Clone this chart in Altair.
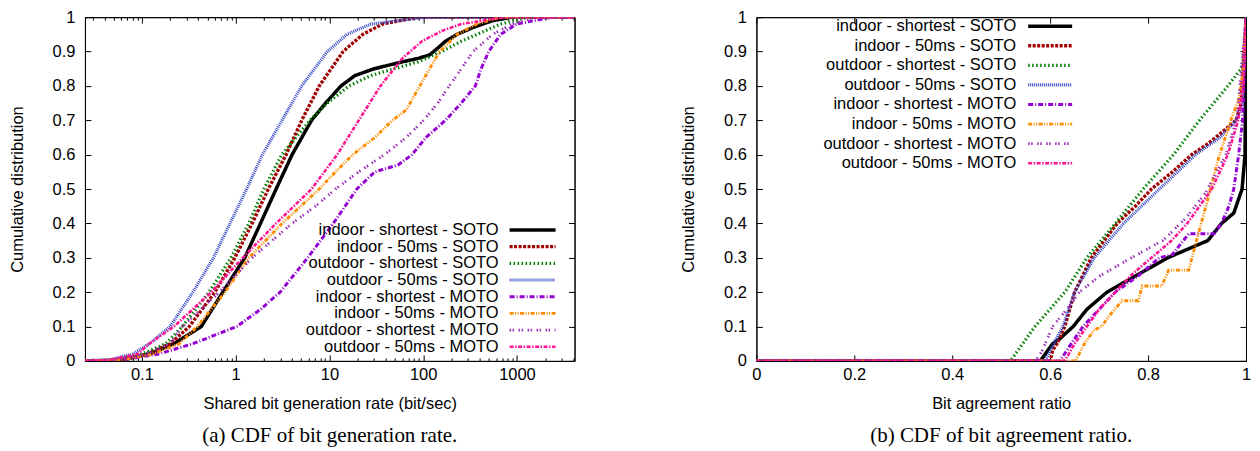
import altair as alt
import pandas as pd

NAMES = ["indoor - shortest - SOTO", "indoor - 50ms - SOTO", "outdoor - shortest - SOTO",
         "outdoor - 50ms - SOTO", "indoor - shortest - MOTO", "indoor - 50ms - MOTO",
         "outdoor - shortest - MOTO", "outdoor - 50ms - MOTO"]
COLORS = ["#000000", "#a00000", "#008000", "#3344c4", "#9400d3", "#ff8c00", "#9a30b8", "#ff1493"]
DASHES = [[1, 0], [3, 1.5], [1.5, 2.5], [1, 1], [5, 2, 1, 2], [4, 1.5, 1, 1.5, 1, 1.5],
          [1.5, 1.5, 1.5, 4.5], [4, 1.5, 1.5, 1.5]]

# ---- (a) shared bit generation rate (bit/sec) vs CDF ----
RATE_X = [
    [0.0247, 0.056, 0.12, 0.22, 0.43, 0.73, 1.25, 1.84, 2.7, 4.0, 6.45, 9.1, 13.3, 18.7, 30, 60, 88, 117, 143, 173, 230, 340, 550, 890, 4115],
    [0.0247, 0.05, 0.1, 0.2, 0.32, 0.6, 0.98, 1.5, 2.23, 3.45, 5.07, 7.8, 14, 22.7, 36.8, 88, 4115],
    [0.0247, 0.05, 0.1, 0.18, 0.27, 0.52, 0.89, 1.38, 2.0, 3.1, 6.2, 9.5, 16.2, 27.6, 49, 88, 158, 255, 455, 670, 1320, 4115],
    [0.0247, 0.045, 0.08, 0.12, 0.2, 0.35, 0.58, 0.87, 1.31, 1.93, 3.13, 5.07, 9.5, 15.4, 27.6, 107, 4115],
    [0.0247, 0.06, 0.15, 0.35, 1.03, 1.84, 2.98, 5.87, 11, 19.6, 30.5, 54, 76, 107, 173, 255, 360, 415, 500, 670, 990, 2360, 4115],
    [0.0247, 0.06, 0.13, 0.25, 0.39, 0.77, 1.38, 3.13, 7.8, 11.6, 17.8, 30.5, 47, 66, 92, 117, 150, 230, 375, 670, 4115],
    [0.0247, 0.055, 0.11, 0.2, 0.27, 0.67, 1.5, 2.45, 4.0, 7.1, 11.6, 20.6, 38.6, 66, 101, 143, 190, 255, 340, 550, 890, 1600, 4115],
    [0.0247, 0.045, 0.09, 0.12, 0.22, 0.55, 1.19, 2.7, 6.45, 12.1, 20.6, 35, 60, 97, 158, 255, 740, 4115],
]
RATE_Y = [
    [0, 0, 0.02, 0.05, 0.1, 0.2, 0.3, 0.4, 0.5, 0.6, 0.7, 0.75, 0.8, 0.83, 0.85, 0.87, 0.88, 0.89, 0.91, 0.93, 0.95, 0.97, 0.99, 1.0, 1.0],
    [0, 0.002, 0.015, 0.05, 0.1, 0.2, 0.3, 0.4, 0.5, 0.6, 0.7, 0.8, 0.9, 0.95, 0.98, 1.0, 1.0],
    [0, 0.003, 0.02, 0.05, 0.1, 0.2, 0.3, 0.4, 0.5, 0.6, 0.7, 0.75, 0.8, 0.83, 0.85, 0.87, 0.9, 0.93, 0.96, 0.98, 1.0, 1.0],
    [0, 0.003, 0.02, 0.05, 0.1, 0.2, 0.3, 0.4, 0.5, 0.6, 0.7, 0.8, 0.9, 0.95, 0.98, 1.0, 1.0],
    [0, 0.002, 0.02, 0.05, 0.1, 0.15, 0.2, 0.3, 0.4, 0.5, 0.55, 0.57, 0.6, 0.65, 0.7, 0.75, 0.8, 0.85, 0.9, 0.95, 0.98, 1.0, 1.0],
    [0, 0.002, 0.02, 0.05, 0.1, 0.2, 0.3, 0.4, 0.5, 0.55, 0.6, 0.65, 0.7, 0.73, 0.8, 0.85, 0.9, 0.95, 0.98, 1.0, 1.0],
    [0, 0.002, 0.02, 0.05, 0.1, 0.2, 0.3, 0.35, 0.4, 0.45, 0.5, 0.55, 0.6, 0.65, 0.7, 0.75, 0.8, 0.85, 0.9, 0.95, 0.98, 1.0, 1.0],
    [0, 0.003, 0.02, 0.05, 0.1, 0.2, 0.3, 0.4, 0.5, 0.6, 0.7, 0.8, 0.88, 0.93, 0.96, 0.98, 1.0, 1.0],
]

# ---- (b) bit agreement ratio vs CDF ----
AGREE_X = [
    [0, 0.58, 0.605, 0.62, 0.647, 0.675, 0.716, 0.778, 0.84, 0.889, 0.922, 0.95, 0.975, 0.992, 0.998, 1.0],
    [0, 0.6, 0.605, 0.614, 0.63, 0.65, 0.684, 0.737, 0.774, 0.807, 0.85, 0.889, 0.92, 0.938, 0.98, 0.99, 1.0],
    [0, 0.519, 0.569, 0.63, 0.675, 0.733, 0.79, 0.852, 0.905, 0.963, 0.99, 0.998, 1.0],
    [0, 0.59, 0.6, 0.626, 0.65, 0.69, 0.75, 0.823, 0.897, 0.947, 0.98, 0.993, 1.0],
    [0, 0.62, 0.643, 0.667, 0.7, 0.733, 0.782, 0.823, 0.85, 0.883, 0.935, 0.95, 0.965, 0.975, 0.985, 0.993, 1.0],
    [0, 0.652, 0.67, 0.69, 0.705, 0.72, 0.747, 0.78, 0.788, 0.828, 0.842, 0.883, 0.897, 0.918, 0.945, 0.971, 0.985, 0.995, 1.0],
    [0, 0.57, 0.583, 0.605, 0.634, 0.66, 0.70, 0.766, 0.83, 0.877, 0.918, 0.94, 0.959, 0.982, 1.0],
    [0, 0.63, 0.65, 0.675, 0.7, 0.733, 0.766, 0.807, 0.848, 0.88, 0.905, 0.93, 0.963, 0.984, 0.995, 1.0],
]
AGREE_Y = [
    [0, 0, 0.05, 0.065, 0.1, 0.15, 0.2, 0.25, 0.3, 0.33, 0.35, 0.4, 0.43, 0.5, 0.6, 1.0],
    [0, 0, 0.03, 0.05, 0.1, 0.2, 0.3, 0.4, 0.45, 0.5, 0.55, 0.6, 0.63, 0.65, 0.7, 0.75, 1.0],
    [0, 0, 0.1, 0.2, 0.3, 0.4, 0.5, 0.6, 0.7, 0.8, 0.85, 0.9, 1.0],
    [0, 0, 0.03, 0.1, 0.2, 0.3, 0.4, 0.5, 0.6, 0.65, 0.7, 0.75, 1.0],
    [0, 0, 0.05, 0.1, 0.15, 0.2, 0.25, 0.3, 0.31, 0.37, 0.37, 0.4, 0.45, 0.5, 0.6, 0.7, 1.0],
    [0, 0, 0.05, 0.09, 0.1, 0.13, 0.175, 0.175, 0.218, 0.218, 0.264, 0.264, 0.34, 0.45, 0.595, 0.708, 0.76, 0.85, 1.0],
    [0, 0, 0.028, 0.1, 0.15, 0.2, 0.246, 0.3, 0.35, 0.415, 0.49, 0.55, 0.6, 0.71, 1.0],
    [0, 0, 0.05, 0.1, 0.15, 0.2, 0.25, 0.3, 0.35, 0.4, 0.45, 0.5, 0.6, 0.7, 0.8, 1.0],
]

Y_TICKS = [0, 0.1, 0.2, 0.3, 0.4, 0.5, 0.6, 0.7, 0.8, 0.9, 1]
RATE_TICKS = [0.1, 1, 10, 100, 1000]
RATE_MINOR = [0.03, 0.04, 0.05, 0.06, 0.07, 0.08, 0.09,
              0.2, 0.3, 0.4, 0.5, 0.6, 0.7, 0.8, 0.9,
              2, 3, 4, 5, 6, 7, 8, 9,
              20, 30, 40, 50, 60, 70, 80, 90,
              200, 300, 400, 500, 600, 700, 800, 900,
              2000, 3000, 4000]
AGREE_TICKS = [0, 0.2, 0.4, 0.6, 0.8, 1]

W, H = 490, 344
FONT = "Liberation Sans"
FS = 16.5


def frame(xs_list, ys_list):
    rows = []
    for name, xs, ys in zip(NAMES, xs_list, ys_list):
        for i, (x, y) in enumerate(zip(xs, ys)):
            rows.append({"series": name, "i": i, "x": x, "y": y})
    return pd.DataFrame(rows)


def tick_axis(orient, offset, values, size, domain):
    return alt.Axis(orient=orient, offset=offset, values=values, labels=False, domain=domain,
                    domainColor="black", domainWidth=1,
                    grid=False, ticks=True, tickSize=size, tickColor="black", title=None)


color = alt.Color("series:N", scale=alt.Scale(domain=NAMES, range=COLORS), legend=None)
dash = alt.StrokeDash("series:N", scale=alt.Scale(domain=NAMES, range=DASHES), legend=None)


def panel(df, xscale, major, minor, xtitle, caption, widths, leg):
    base = alt.Chart(df)
    sw = alt.StrokeWidth("series:N", scale=alt.Scale(domain=NAMES, range=widths), legend=None)
    lines = base.mark_line(clip=True).encode(
        x=alt.X("x:Q", scale=xscale,
                axis=alt.Axis(orient="bottom", values=major, format="~g", labelFlush=False,
                              labelOverlap=False, ticks=False, tickSize=0, domain=False, grid=False,
                              labelPadding=6, title=xtitle, titlePadding=12)),
        y=alt.Y("y:Q", scale=alt.Scale(domain=[0, 1], nice=False),
                axis=alt.Axis(orient="left", values=Y_TICKS, format="~g", labelFlush=False,
                              labelOverlap=False, ticks=False, tickSize=0, domain=False, grid=False,
                              labelPadding=10, title="Cumulative distribution", titlePadding=27)),
        color=color, strokeDash=dash, strokeWidth=sw,
        order=alt.Order("i:Q"),
    )
    inv = base.mark_line(strokeOpacity=0)
    t1 = inv.encode(x=alt.X("x:Q", axis=tick_axis("top", -H, major, 6, True)),
                    y=alt.Y("y:Q", axis=tick_axis("right", -W, Y_TICKS, 6, True)))
    t2 = inv.encode(x=alt.X("x:Q", axis=tick_axis("bottom", -H, major, 6, True)),
                    y=alt.Y("y:Q", axis=tick_axis("left", -W, Y_TICKS, 6, True)))
    layers = [lines, t1, t2]
    if minor:
        t3 = inv.encode(x=alt.X("x:Q", axis=tick_axis("top", -H, minor, 3, False)),
                        y=alt.Y("y:Q", axis=None))
        t4 = inv.encode(x=alt.X("x:Q", axis=tick_axis("bottom", -H, minor, 3, False)),
                        y=alt.Y("y:Q", axis=None))
        layers += [t3, t4]

    leg_df = pd.DataFrame({"series": NAMES, "k": list(range(len(NAMES)))})
    lbase = alt.Chart(leg_df).transform_calculate(ly=f"{leg['y0']} + datum.k * {leg['dy']}")
    ltext = lbase.mark_text(align="right", baseline="middle", font=FONT, fontSize=FS, color="black").encode(
        x=alt.value(leg["tx"]), y=alt.Y("ly:Q", scale=None, axis=None), text="series:N")
    lrule = lbase.mark_rule().encode(
        x=alt.value(leg["r1"]), x2=alt.value(leg["r2"]), y=alt.Y("ly:Q", scale=None, axis=None),
        color=color, strokeDash=dash, strokeWidth=sw)
    layers += [ltext, lrule]

    return alt.layer(*layers).resolve_axis(x="independent", y="independent").properties(
        width=W, height=H,
        title=alt.TitleParams(caption, orient="bottom", anchor="middle", font="Liberation Serif",
                              fontSize=21, fontWeight="normal", color="black", offset=13),
    )


left = panel(frame(RATE_X, RATE_Y),
             alt.Scale(type="log", domain=[0.0247, 4115], nice=False),
             RATE_TICKS, RATE_MINOR, "Shared bit generation rate (bit/sec)",
             "(a) CDF of bit generation rate.", [3.5, 2.6, 2.6, 2.6, 2.6, 2.6, 2.6, 2.6],
             {"y0": 213, "dy": 16.7, "tx": 414, "r1": 425, "r2": 471})
right = panel(frame(AGREE_X, AGREE_Y),
              alt.Scale(domain=[0, 1], nice=False),
              AGREE_TICKS, None, "Bit agreement ratio",
              "(b) CDF of bit agreement ratio.", [2.3, 1.7, 1.7, 1.7, 1.7, 1.7, 1.7, 1.7],
              {"y0": 9, "dy": 19.6, "tx": 260, "r1": 272, "r2": 316})

chart = alt.hconcat(left, right, spacing=104).properties(
    padding={"left": 0, "right": 0, "top": 0, "bottom": 0}
).configure(background="white").configure_view(
    stroke="black", strokeWidth=1
).configure_axis(
    labelFont=FONT, labelFontSize=FS, labelColor="black",
    titleFont=FONT, titleFontSize=FS, titleFontWeight="normal", titleColor="black",
)

chart.save("out.html", embed_options={"renderer": "svg", "actions": False})
